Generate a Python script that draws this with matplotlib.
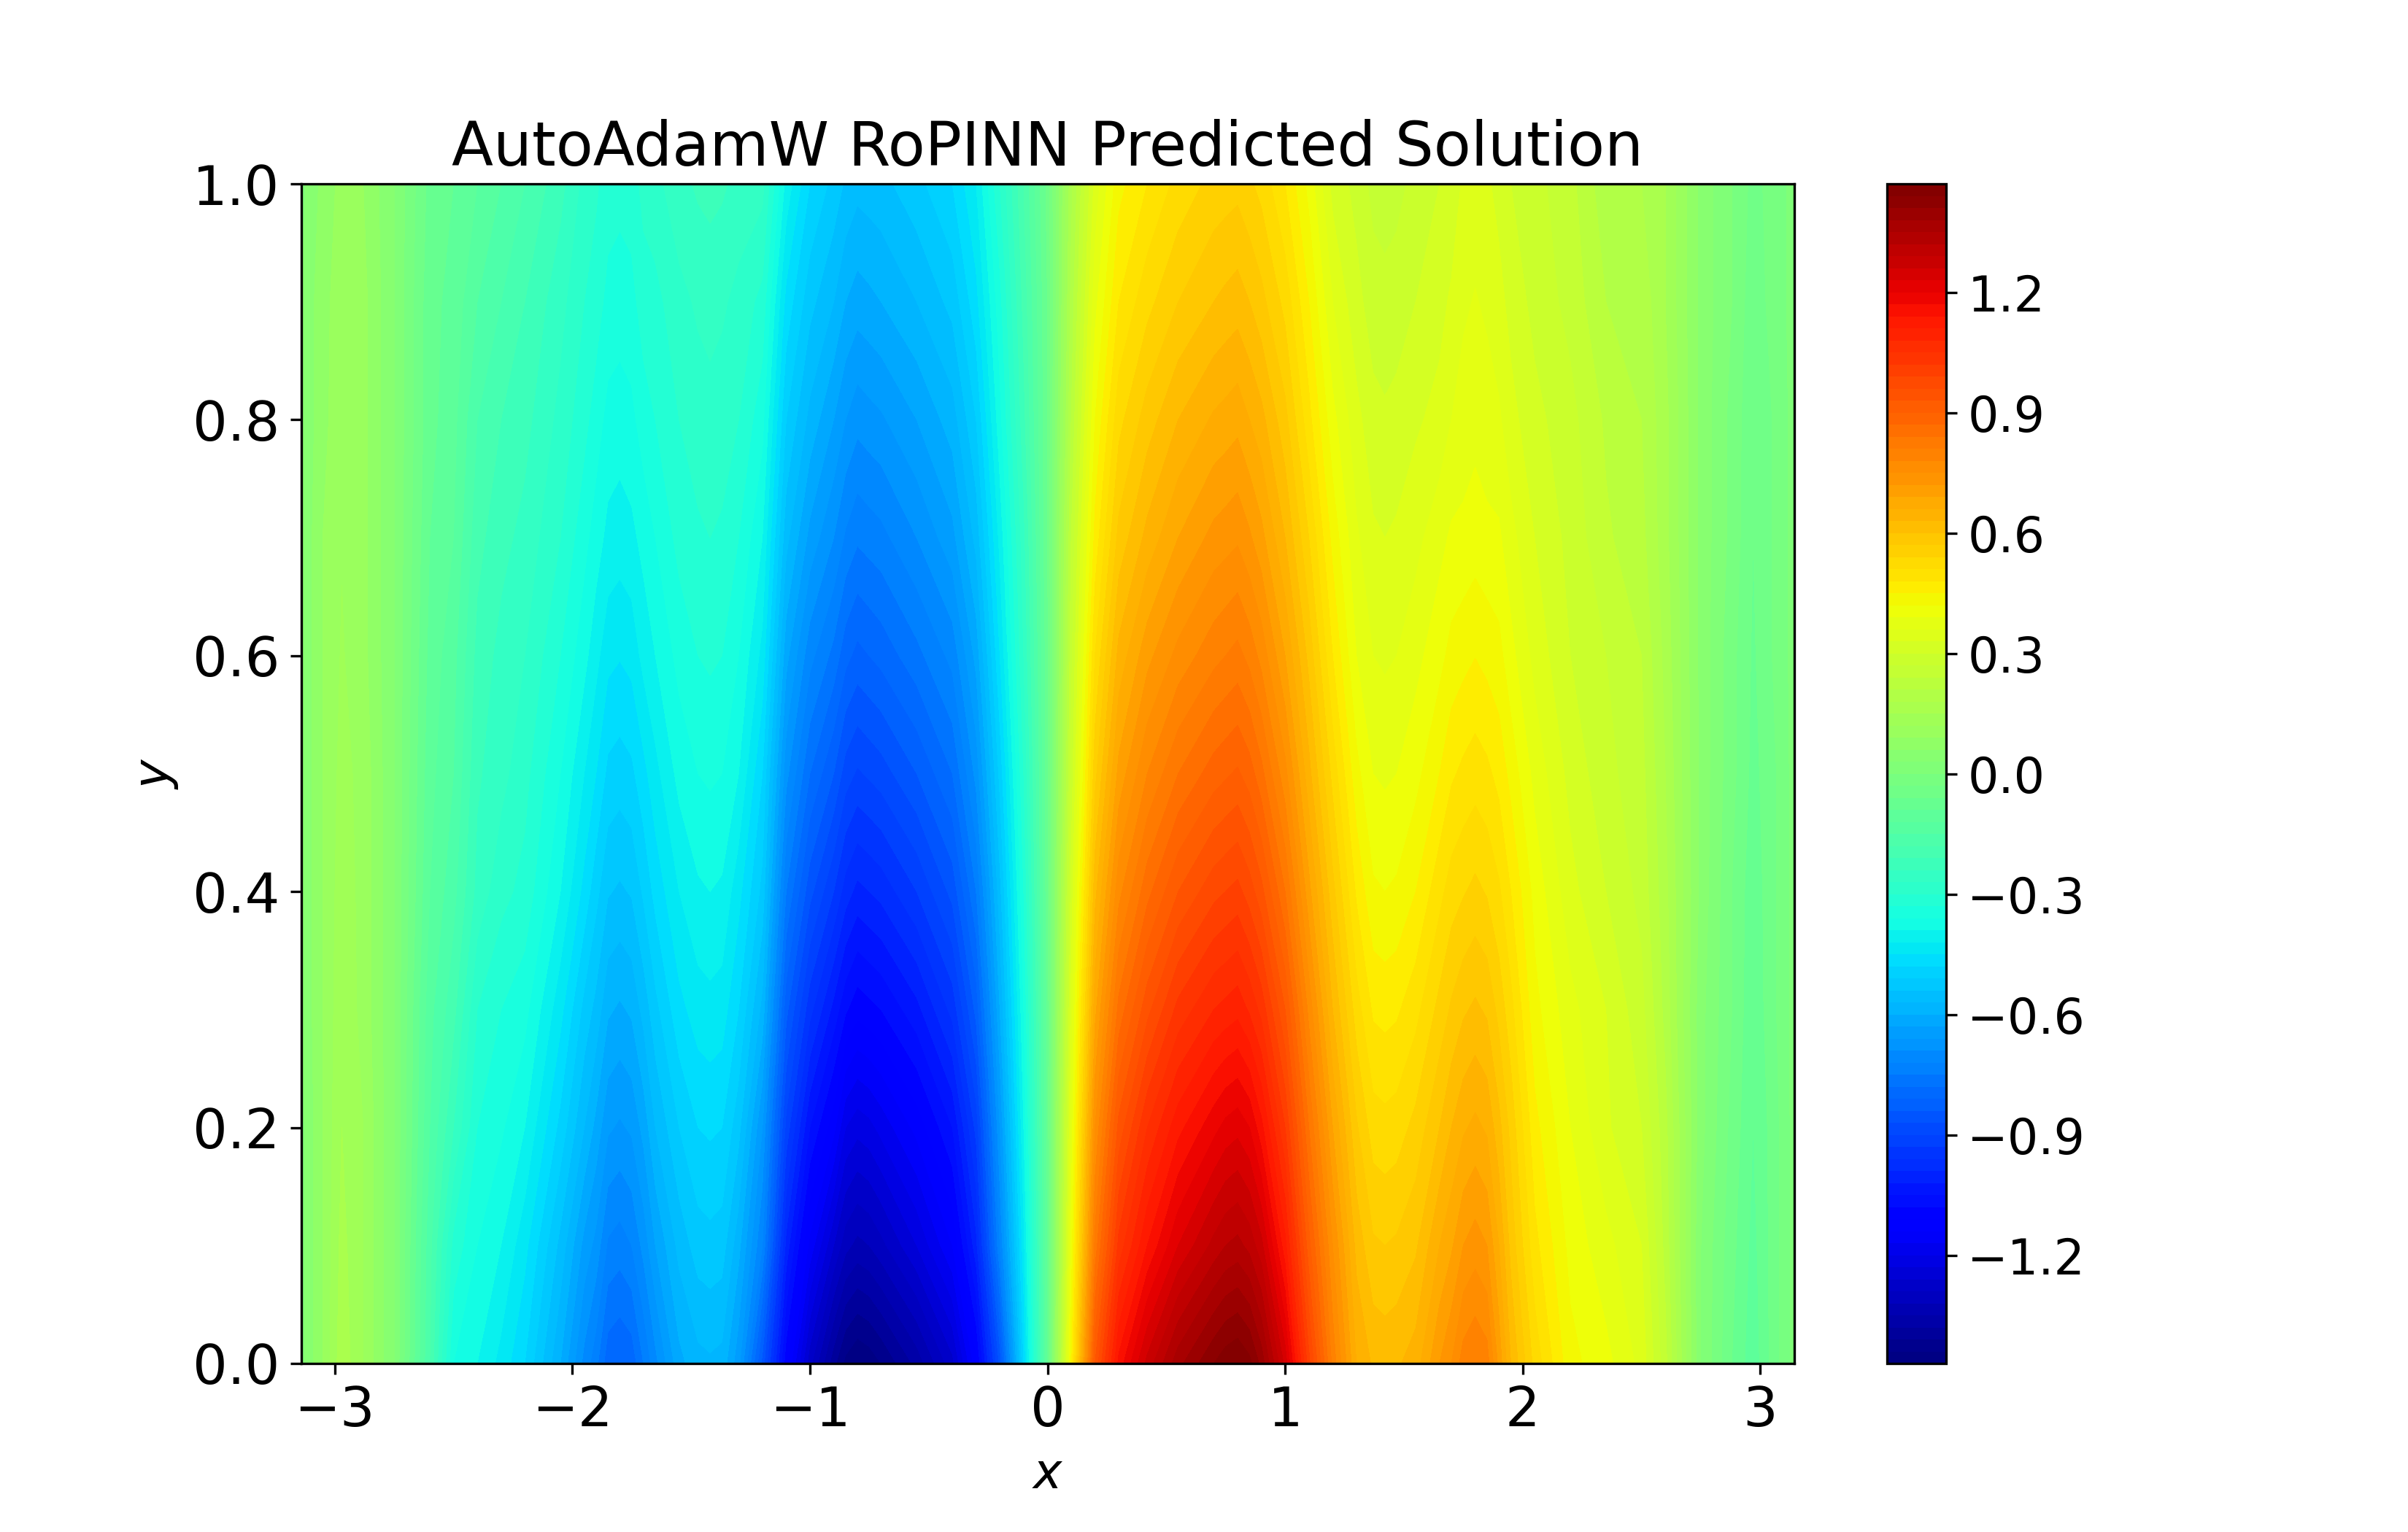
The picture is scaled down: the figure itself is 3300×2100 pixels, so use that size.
import numpy as np
from matplotlib import pyplot as plt

# y stations (rows of the field)
y_vals = [0.0, 0.1, 0.2, 0.3, 0.4, 0.5, 0.6, 0.7, 0.8, 0.9, 1.0]

# x stations, with the field at each one (bottom to top)
x_vals = [-3.14, -3.05, -2.97, -2.88, -2.75, -2.6, -2.5, -2.4, -2.3, -2.2,
          -2.05, -1.95, -1.9, -1.85, -1.8, -1.75, -1.7, -1.65, -1.55, -1.47,
          -1.42, -1.37, -1.3, -1.2, -1.1, -1.0, -0.9, -0.85, -0.8, -0.75,
          -0.7, -0.55, -0.4, -0.3, -0.2, -0.1,
          0.0, 0.1, 0.2, 0.3, 0.42, 0.55, 0.7, 0.75, 0.8, 0.85, 0.9, 1.0,
          1.1, 1.2, 1.3, 1.37, 1.42, 1.47, 1.55, 1.65, 1.7, 1.75, 1.8, 1.85,
          1.9, 1.95, 2.05, 2.2, 2.35, 2.5, 2.6, 2.75, 2.88, 2.97, 3.05, 3.14]

u_columns = [
    [.02, .02, .02, .03, .03, .03, .03, .03, .03, .03, .02],
    [.09, .09, .09, .09, .09, .09, .09, .09, .08, .08, .07],
    [.17, .16, .15, .143, .137, .13, .123, .118, .112, .106, .10],
    [.12, .12, .12, .11, .11, .11, .10, .10, .10, .10, .09],
    [.03, .03, .03, .03, .03, .03, .03, .03, .03, .03, .03],
    [-.18, -.17, -.15, -.14, -.12, -.11, -.10, -.09, -.08, -.08, -.07],
    [-.36, -.31, -.24, -.20, -.17, -.15, -.14, -.12, -.11, -.10, -.09],
    [-.39, -.36, -.33, -.30, -.25, -.235, -.22, -.20, -.18, -.15, -.12],
    [-.43, -.39, -.355, -.33, -.29, -.26, -.25, -.23, -.21, -.18, -.15],
    [-.48, -.44, -.39, -.35, -.31, -.29, -.27, -.25, -.23, -.21, -.18],
    [-.60, -.55, -.49, -.44, -.39, -.36, -.33, -.30, -.28, -.26, -.23],
    [-.70, -.64, -.57, -.52, -.46, -.42, -.38, -.35, -.32, -.30, -.28],
    [-.74, -.67, -.61, -.55, -.50, -.45, -.41, -.375, -.345, -.315, -.295],
    [-.80, -.725, -.655, -.595, -.537, -.488, -.441, -.399, -.37, -.34, -.315],
    [-.81, -.735, -.665, -.605, -.545, -.495, -.448, -.405, -.375, -.345, -.32],
    [-.80, -.72, -.655, -.595, -.537, -.487, -.44, -.398, -.368, -.34, -.315],
    [-.75, -.68, -.62, -.56, -.505, -.46, -.41, -.38, -.345, -.315, -.29],
    [-.70, -.63, -.57, -.52, -.47, -.43, -.39, -.36, -.33, -.31, -.28],
    [-.61, -.56, -.51, -.46, -.42, -.38, -.35, -.32, -.30, -.28, -.25],
    [-.58, -.525, -.48, -.435, -.395, -.36, -.33, -.305, -.285, -.265, -.235],
    [-.575, -.52, -.475, -.43, -.39, -.355, -.325, -.30, -.28, -.26, -.23],
    [-.58, -.525, -.48, -.435, -.395, -.36, -.33, -.305, -.285, -.265, -.235],
    [-.65, -.59, -.53, -.48, -.44, -.39, -.36, -.33, -.30, -.28, -.25],
    [-.85, -.72, -.66, -.58, -.52, -.48, -.43, -.39, -.35, -.31, -.26],
    [-1.1, -1.0, -.91, -.83, -.75, -.68, -.62, -.56, -.51, -.46, -.40],
    [-1.28, -1.15, -1.05, -.95, -.86, -.78, -.71, -.64, -.58, -.53, -.48],
    [-1.40, -1.26, -1.13, -1.03, -.93, -.84, -.76, -.69, -.63, -.57, -.52],
    [-1.45, -1.31, -1.20, -1.075, -.975, -.885, -.80, -.725, -.66, -.60, -.545],
    [-1.47, -1.33, -1.22, -1.10, -1.0, -.905, -.82, -.745, -.68, -.615, -.56],
    [-1.46, -1.32, -1.21, -1.09, -.99, -.895, -.81, -.737, -.672, -.608, -.555],
    [-1.44, -1.30, -1.19, -1.08, -.98, -.885, -.80, -.73, -.665, -.60, -.55],
    [-1.37, -1.23, -1.13, -1.03, -.93, -.84, -.76, -.69, -.63, -.57, -.52],
    [-1.27, -1.14, -1.05, -.95, -.86, -.78, -.71, -.64, -.585, -.53, -.48],
    [-1.12, -1.0, -.92, -.83, -.75, -.68, -.62, -.56, -.51, -.46, -.42],
    [-.86, -.72, -.66, -.60, -.55, -.50, -.45, -.41, -.37, -.34, -.30],
    [-.48, -.43, -.39, -.36, -.33, -.30, -.27, -.25, -.22, -.20, -.18],
    [-.09, -.09, -.08, -.08, -.07, -.07, -.07, -.06, -.06, -.06, -.05],
    [.44, .40, .37, .34, .31, .28, .26, .24, .21, .19, .17],
    [.93, .82, .75, .68, .62, .56, .51, .46, .42, .38, .34],
    [1.15, 1.03, .94, .85, .77, .70, .64, .58, .53, .48, .44],
    [1.27, 1.14, 1.05, .95, .86, .78, .71, .64, .585, .53, .48],
    [1.37, 1.23, 1.13, 1.03, .93, .84, .76, .69, .63, .57, .52],
    [1.44, 1.30, 1.19, 1.08, .98, .885, .80, .73, .665, .60, .55],
    [1.46, 1.32, 1.21, 1.09, .99, .895, .81, .737, .672, .608, .555],
    [1.47, 1.33, 1.22, 1.10, 1.0, .905, .82, .745, .68, .615, .56],
    [1.45, 1.31, 1.20, 1.075, .975, .885, .80, .725, .66, .60, .545],
    [1.40, 1.27, 1.15, 1.04, .94, .85, .77, .70, .64, .58, .53],
    [1.25, 1.12, 1.02, .93, .84, .76, .69, .63, .58, .53, .48],
    [1.0, .91, .84, .77, .70, .64, .59, .54, .49, .45, .41],
    [.80, .75, .69, .63, .58, .53, .48, .44, .40, .36, .32],
    [.66, .62, .575, .525, .475, .43, .39, .365, .34, .31, .29],
    [.625, .575, .525, .475, .425, .39, .36, .335, .31, .285, .26],
    [.62, .57, .52, .47, .42, .385, .355, .33, .305, .28, .255],
    [.625, .575, .525, .475, .425, .39, .36, .335, .31, .285, .26],
    [.645, .595, .55, .50, .45, .41, .38, .35, .325, .30, .28],
    [.72, .66, .60, .55, .50, .45, .41, .38, .34, .32, .30],
    [.75, .685, .63, .575, .525, .475, .43, .395, .36, .335, .31],
    [.795, .72, .655, .595, .537, .487, .44, .398, .372, .355, .335],
    [.81, .735, .668, .606, .548, .496, .449, .405, .38, .362, .345],
    [.795, .72, .655, .595, .537, .487, .44, .398, .372, .355, .335],
    [.71, .66, .61, .56, .515, .47, .43, .395, .365, .34, .32],
    [.63, .59, .56, .52, .48, .44, .40, .37, .34, .32, .30],
    [.53, .49, .46, .43, .41, .38, .35, .33, .31, .29, .28],
    [.43, .41, .39, .37, .34, .32, .30, .29, .28, .26, .25],
    [.40, .37, .335, .33, .30, .28, .27, .245, .235, .21, .19],
    [.35, .33, .30, .28, .26, .25, .24, .22, .21, .20, .18],
    [.25, .23, .22, .20, .19, .18, .17, .16, .16, .15, .15],
    [.03, .03, .04, .04, .05, .05, .05, .05, .05, .05, .05],
    [-.06, -.05, -.04, -.03, -.03, -.02, -.02, -.01, -.01, 0, 0],
    [-.11, -.10, -.09, -.085, -.08, -.07, -.065, -.06, -.055, -.05, -.04],
    [-.05, -.05, -.05, -.04, -.04, -.04, -.03, -.03, -.03, -.02, -.02],
    [.01, .01, .01, .01, .01, .01, .01, .01, .01, .01, .01],
]

levels = np.arange(-1.47, 1.4701, 0.03)
cbar_ticks = [-1.2, -0.9, -0.6, -0.3, 0.0, 0.3, 0.6, 0.9, 1.2]

fig, ax = plt.subplots(figsize=(11, 7))
u = np.array(u_columns).T
cf = ax.contourf(x_vals, y_vals, u, levels=levels, cmap='jet')

ax.set_xlim(-np.pi, np.pi)
ax.set_ylim(0, 1)
ax.set_xticks([-3, -2, -1, 0, 1, 2, 3])
ax.set_yticks([0, 0.2, 0.4, 0.6, 0.8, 1.0])
ax.tick_params(labelsize=18)
ax.set_xlabel('$x$', fontsize=16)
ax.set_ylabel('$y$', fontsize=16)
ax.set_title('AutoAdamW RoPINN Predicted Solution', fontsize=20)

cbar = fig.colorbar(cf, ax=ax)
cbar.set_ticks(cbar_ticks)
cbar.ax.tick_params(labelsize=16)

plt.savefig('out.png', dpi=300)
